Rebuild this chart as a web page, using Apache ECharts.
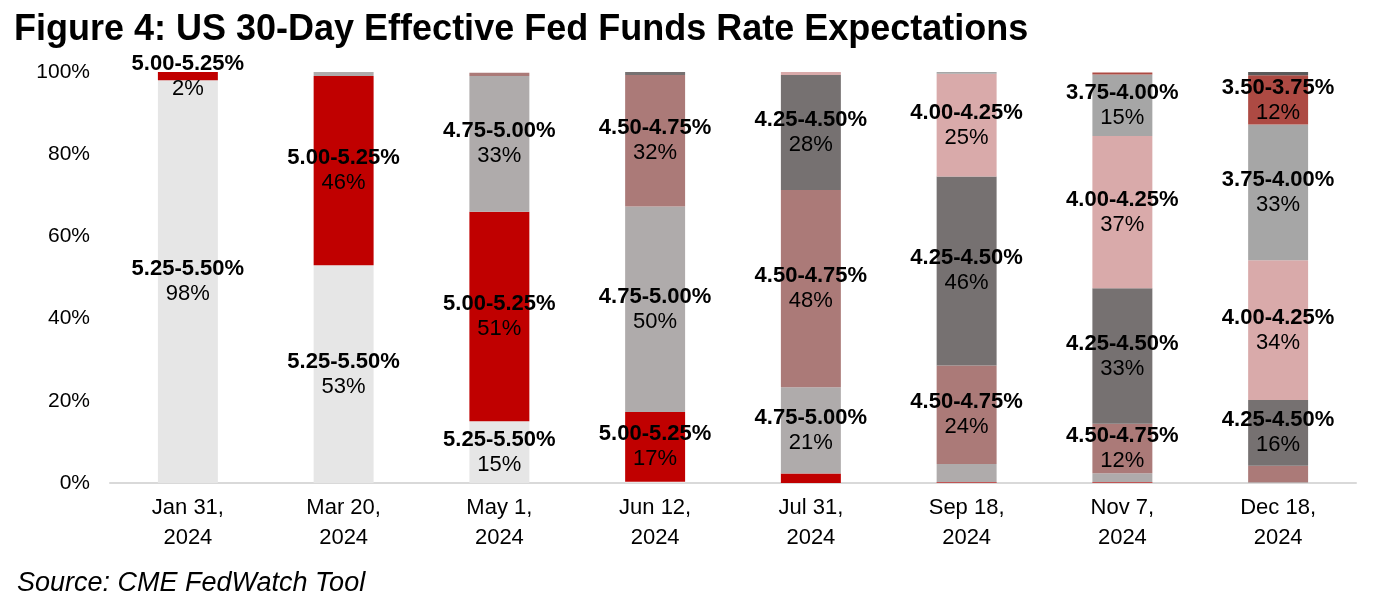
<!DOCTYPE html>
<html>
<head>
<meta charset="utf-8">
<script src="https://cdn.jsdelivr.net/npm/echarts@6/dist/echarts.min.js"></script>
<style>
html,body{margin:0;padding:0;background:#fff;}
#c{width:1375px;height:603px;}
</style>
</head>
<body>
<div id="c"></div>
<script>
// Meeting dates
var categories = ['Jan 31,\n2024','Mar 20,\n2024','May 1,\n2024','Jun 12,\n2024','Jul 31,\n2024','Sep 18,\n2024','Nov 7,\n2024','Dec 18,\n2024'];
// Target rate ranges (bottom of stack first)
var ranges = ['5.25-5.50','5.00-5.25','4.75-5.00','4.50-4.75','4.25-4.50','4.00-4.25','3.75-4.00','3.50-3.75','3.25-3.50'];
// Probability (%) of each range per meeting
var r525_550 = [98, 53, 15, 0.3, 0, 0, 0, 0];
var r500_525 = [2, 46, 51, 17, 2.3, 0.2, 0.2, 0];
var r475_500 = [0, 1, 33, 50, 21, 4.4, 2.2, 0.2];
var r450_475 = [0, 0, 0.8, 32, 48, 24, 12, 4];
var r425_450 = [0, 0, 0, 0.9, 28, 46, 33, 16];
var r400_425 = [0, 0, 0, 0, 1, 25, 37, 34];
var r375_400 = [0, 0, 0, 0, 0, 0.4, 15, 33];
var r350_375 = [0, 0, 0, 0, 0, 0, 0.5, 12];
var r325_350 = [0, 0, 0, 0, 0, 0, 0, 0.8];
var seriesValues = [r525_550, r500_525, r475_500, r450_475, r425_450, r400_425, r375_400, r350_375, r325_350];
// Which segments carry a data label (series index per meeting)
var labelled = [[0,1],[0,1],[0,1,2],[1,2,3],[2,3,4],[3,4,5],[3,4,5,6],[4,5,6,7]];
var yTicks = [0, 20, 40, 60, 80, 100];

var colors = ['#e6e6e6','#c00000','#afabab','#ab7a78','#767171','#d9aaaa','#a6a6a6','#ad4a43','#595959'];
var FONT = 'Liberation Sans, Arial, sans-serif';

var series = ranges.map(function(name, si){
  return {
    name: name,
    type: 'bar',
    stack: 'all',
    barWidth: '38.5%',
    itemStyle: {color: colors[si]},
    label: {
      show: false,
      position: 'inside',
      formatter: function(p){ return '{a|' + p.seriesName + '%}\n{b|' + Math.round(p.value) + '%}'; },
      rich: {
        a: {fontFamily: FONT, fontWeight: 'bold', fontSize: 22, color: '#000', lineHeight: 25},
        b: {fontFamily: FONT, fontSize: 22, color: '#000', lineHeight: 25}
      }
    },
    data: seriesValues[si].map(function(v, ci){
      var d = {value: v};
      if (labelled[ci].indexOf(si) >= 0) d.label = {show: true};
      return d;
    })
  };
});

var chart = echarts.init(document.getElementById('c'), null, {renderer: 'canvas'});
chart.setOption({
  animation: false,
  backgroundColor: '#fff',
  title: [
    {text: 'Figure 4: US 30-Day Effective Fed Funds Rate Expectations', left: 9, top: 7,
     textStyle: {fontFamily: FONT, fontWeight: 'bold', fontSize: 36, color: '#000'}},
    {text: 'Source: CME FedWatch Tool', left: 12, top: 565,
     textStyle: {fontFamily: FONT, fontStyle: 'italic', fontWeight: 'normal', fontSize: 27, color: '#000'}}
  ],
  grid: {left: 110, right: 19, top: 72, bottom: 120, containLabel: false},
  xAxis: {
    type: 'category',
    data: categories,
    axisLine: {lineStyle: {color: '#d9d9d9', width: 2}},
    axisTick: {show: false},
    axisLabel: {fontFamily: FONT, fontSize: 22, color: '#000', lineHeight: 30, margin: 10, interval: 0}
  },
  yAxis: {
    type: 'value',
    min: yTicks[0], max: yTicks[yTicks.length-1], interval: 20,
    axisLine: {show: false},
    axisTick: {show: false},
    splitLine: {show: false},
    axisLabel: {fontFamily: FONT, fontSize: 21, color: '#000', margin: 20, formatter: '{value}%'}
  },
  series: series
});
</script>
</body>
</html>
